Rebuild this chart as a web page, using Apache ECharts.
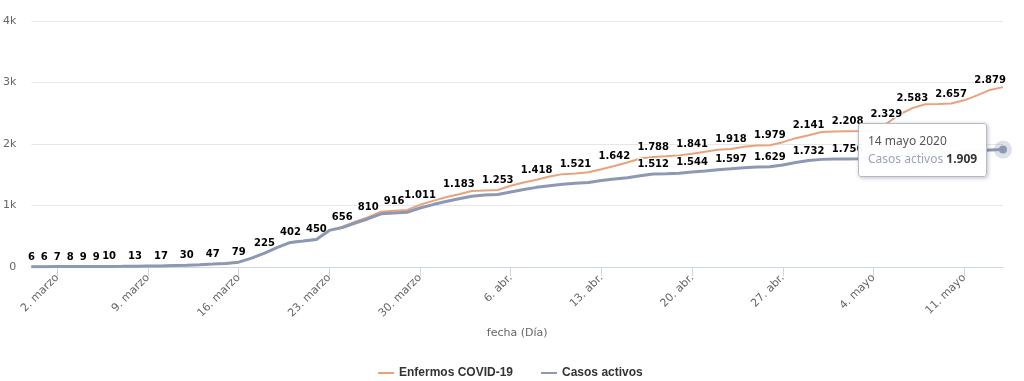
<!DOCTYPE html>
<html>
<head>
<meta charset="utf-8">
<script src="https://cdn.jsdelivr.net/npm/echarts@6/dist/echarts.min.js"></script>
<style>
html,body{margin:0;padding:0;background:#fff;}
#c{width:1024px;height:381px;}
</style>
</head>
<body>
<div id="c"></div>
<script>
// Dates (29 Feb 2020 – 14 May 2020), one point per day
const dates = [
 '2020-02-29',
 '2020-03-01','2020-03-02','2020-03-03','2020-03-04','2020-03-05','2020-03-06','2020-03-07','2020-03-08','2020-03-09','2020-03-10',
 '2020-03-11','2020-03-12','2020-03-13','2020-03-14','2020-03-15','2020-03-16','2020-03-17','2020-03-18','2020-03-19','2020-03-20',
 '2020-03-21','2020-03-22','2020-03-23','2020-03-24','2020-03-25','2020-03-26','2020-03-27','2020-03-28','2020-03-29','2020-03-30','2020-03-31',
 '2020-04-01','2020-04-02','2020-04-03','2020-04-04','2020-04-05','2020-04-06','2020-04-07','2020-04-08','2020-04-09','2020-04-10',
 '2020-04-11','2020-04-12','2020-04-13','2020-04-14','2020-04-15','2020-04-16','2020-04-17','2020-04-18','2020-04-19','2020-04-20',
 '2020-04-21','2020-04-22','2020-04-23','2020-04-24','2020-04-25','2020-04-26','2020-04-27','2020-04-28','2020-04-29','2020-04-30',
 '2020-05-01','2020-05-02','2020-05-03','2020-05-04','2020-05-05','2020-05-06','2020-05-07','2020-05-08','2020-05-09','2020-05-10',
 '2020-05-11','2020-05-12','2020-05-13','2020-05-14'
];
const enfermos = [
 6,
 6,7,8,9,9,10,11,13,15,17,
 24,30,38,47,58,79,145,225,320,402,
 425,450,600,656,735,810,900,916,928,1011,1075,
 1135,1183,1235,1245,1253,1320,1375,1418,1470,1510,
 1521,1540,1590,1642,1700,1765,1788,1800,1815,1841,
 1875,1905,1918,1955,1975,1979,2030,2095,2141,2195,
 2203,2208,2212,2225,2329,2480,2583,2645,2650,2657,
 2710,2790,2879,2925
];
const activos = [
 6,
 6,7,8,9,9,10,11,13,15,17,
 24,30,38,47,58,79,145,225,318,400,
 422,447,595,640,715,785,865,880,890,960,1015,
 1065,1110,1150,1170,1180,1220,1260,1295,1320,1345,
 1360,1375,1405,1430,1450,1485,1512,1518,1525,1544,
 1562,1582,1597,1615,1625,1629,1660,1700,1732,1750,
 1755,1756,1760,1770,1790,1815,1835,1850,1858,1865,
 1880,1895,1902,1909
];
// indices of points whose data labels are visible in the reference
const enfermosLabelIdx = [0,1,2,3,4,5,6,8,10,12,14,16,18,20,22,24,26,28,30,33,36,39,42,45,48,51,54,57,60,63,66,68,71,74];
const activosLabelIdx = [48,51,54,57,60,63];
const tooltipIdx = 75;
const yTicks = [0,1000,2000,3000,4000];

const monthNames = ['ene.','feb.','marzo','abr.','mayo','jun.','jul.','ago.','sept.','oct.','nov.','dic.'];
const monthLong = ['enero','febrero','marzo','abril','mayo','junio','julio','agosto','septiembre','octubre','noviembre','diciembre'];
function fmt(v){ return String(v).replace(/\B(?=(\d{3})+(?!\d))/g,'.'); }
function isMonday(s){ const d=new Date(s+'T00:00:00Z'); return d.getUTCDay()===1; }

const ORANGE = '#e8a27c', BLUE = '#8d98b3';
const FONT = 'DejaVu Sans';
const labelStyle = {show:true, position:'top', distance:4, color:'#000', fontFamily:FONT, fontWeight:'bold', fontSize:10, textBorderColor:'#fff', textBorderWidth:2, formatter:p=>fmt(p.value)};
const hiddenSym = {color:'rgba(0,0,0,0)', borderWidth:0};

const orangeData = enfermos.map((v,i)=>({value:v, label: enfermosLabelIdx.includes(i)? labelStyle : {show:false}}));
const blueData = activos.map((v,i)=>{
  const o = {value:v, label: activosLabelIdx.includes(i)? labelStyle : {show:false}};
  if(i===tooltipIdx){ o.symbolSize=8; o.itemStyle={color:BLUE, borderColor:'rgba(141,152,179,0.3)', borderWidth:10}; }
  return o;
});

const chart = echarts.init(document.getElementById('c'), null, {renderer:'canvas'});
chart.setOption({
  animation:false,
  grid:{left:30, right:21, top:21, bottom:114},
  legend:{
    top:362, left:373, itemGap:28, itemWidth:16, itemHeight:2,
    textStyle:{fontFamily:'Liberation Sans', fontWeight:'bold', fontSize:12, color:'#333'},
    data:[
      {name:'Enfermos COVID-19', icon:'rect', itemStyle:{color:ORANGE}},
      {name:'Casos activos', icon:'rect', itemStyle:{color:BLUE}}
    ]
  },
  tooltip:{
    trigger:'item', triggerOn:'none', alwaysShowContent:true,
    backgroundColor:'rgba(255,255,255,0.96)', borderColor:'#b3bacb', borderWidth:1, padding:[8,9],
    textStyle:{fontFamily:'Noto Sans', fontSize:12, color:'#333'},
    extraCssText:'box-shadow:1px 1px 4px rgba(0,0,0,0.25);border-radius:3px;line-height:18px;',
    position:function(point,params,dom,rect,size){ return [point[0]-size.contentSize[0]-16, point[1]-size.contentSize[1]/2]; },
    formatter:function(p){
      const d=new Date(dates[p.dataIndex]+'T00:00:00Z');
      return '<span style="color:#555">'+d.getUTCDate()+' '+monthLong[d.getUTCMonth()]+' '+d.getUTCFullYear()+'</span><br/>'+
             '<span style="color:#9aa3bb">'+p.seriesName+'</span> <b style="color:#333">'+fmt(p.value)+'</b>';
    }
  },
  xAxis:{
    type:'category', data:dates, boundaryGap:false,
    name:'fecha (Día)', nameLocation:'middle', nameGap:61,
    nameTextStyle:{fontFamily:FONT, fontSize:11, color:'#666'},
    axisLine:{lineStyle:{color:'#ccd6eb'}},
    axisTick:{show:true, length:9, lineStyle:{color:'#ccd6eb'}, interval:(i,v)=>isMonday(v)},
    axisLabel:{
      interval:(i,v)=>isMonday(v), rotate:45, margin:9, color:'#666', fontFamily:FONT, fontSize:11,
      formatter:v=>{const d=new Date(v+'T00:00:00Z'); return d.getUTCDate()+'. '+monthNames[d.getUTCMonth()];}
    },
    splitLine:{show:false}
  },
  yAxis:{
    type:'value', min:yTicks[0], max:yTicks[yTicks.length-1], interval:1000,
    axisLine:{show:false}, axisTick:{show:false},
    axisLabel:{margin:15, color:'#666', fontFamily:FONT, fontSize:11, formatter:v=>v===0?'0':(v/1000)+'k'},
    splitLine:{lineStyle:{color:'#e6e6e6'}}
  },
  series:[
    {name:'Enfermos COVID-19', type:'line', data:orangeData, symbol:'circle', symbolSize:1, showSymbol:true,
     lineStyle:{color:ORANGE, width:2}, itemStyle:Object.assign({}, hiddenSym), z:2},
    {name:'Casos activos', type:'line', data:blueData, symbol:'circle', symbolSize:1, showSymbol:true,
     lineStyle:{color:BLUE, width:3}, itemStyle:Object.assign({}, hiddenSym), z:3}
  ]
});
chart.dispatchAction({type:'showTip', seriesIndex:1, dataIndex:tooltipIdx});
</script>
</body>
</html>
